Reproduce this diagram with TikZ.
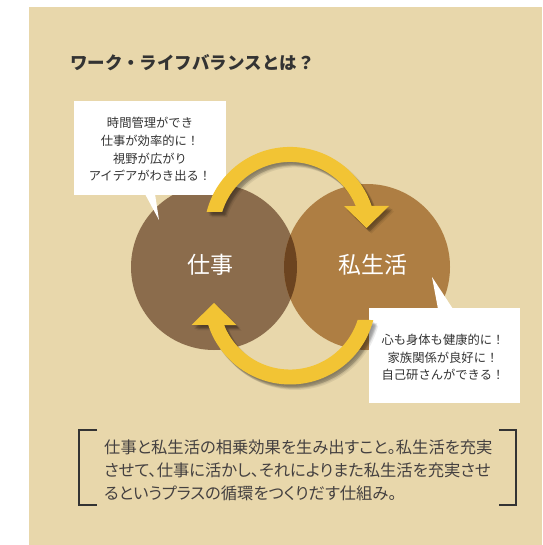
\documentclass[tikz,border=0pt]{standalone}
\usepackage{fontspec}
\setmainfont{Noto Sans CJK JP}
\newfontfamily\jp{Noto Sans CJK JP}
\newfontfamily\jpp[RawFeature=+palt]{Noto Sans CJK JP}
\definecolor{bg}{HTML}{E8D7AB}
\definecolor{workc}{HTML}{8B6C4C}
\definecolor{lifec}{HTML}{AE7E43}
\definecolor{overc}{HTML}{6C4420}
\definecolor{arrowc}{HTML}{F2C434}
\definecolor{txt}{HTML}{333333}
\definecolor{body}{HTML}{444040}
\newcommand{\toparrowpath}{(206.6,212) arc[start angle=194.1, end angle=341.7, radius=86]
   -- (389,206) -- (366.5,228) -- (344,206) -- (355.7,206)
   arc[start angle=337.7, end angle=197.2, radius=71] -- cycle}
\newcommand{\botarrowpath}{(373.3,320) arc[start angle=14.5, end angle=162.1, radius=86]
   -- (191.5,325) -- (214,303) -- (236.5,325) -- (224.1,325)
   arc[start angle=158.1, end angle=17.6, radius=71] -- cycle}
\tikzset{
  bubble/.style={fill=white, draw=none, inner sep=0pt},
  calltext/.style={text=txt, align=center, inner sep=0pt, font=\jp\fontsize{12.3}{17.7}\selectfont},
  circlabel/.style={text=white, inner sep=0pt, font=\jp\fontsize{23}{23}\selectfont},
  bodytext/.style={text=body, anchor=base west, inner sep=0pt, font=\jpp\fontsize{16.3}{16.3}\selectfont},
  cycarrow/.style={fill=arrowc},
  arrowshadow/.style={fill=black, fill opacity=0.07},
  brk/.style={draw=txt, line width=1.2pt}
}
\begin{document}
\begin{tikzpicture}[x=1pt,y=-1pt]
\useasboundingbox (0,0) rectangle (542,545);
\fill[bg] (29,7) rectangle (542,545);

% title
\node[anchor=base west, inner sep=0pt, text=txt, font=\jp\bfseries\fontsize{17.5}{17.5}\selectfont] (title) at (70,69.5) {ワーク・ライフバランスとは？};

% circles
\node[circle, fill=workc, minimum size=166pt, inner sep=0pt] (work) at (214,267) {};
\node[circle, fill=lifec, minimum size=166pt, inner sep=0pt] (life) at (367,267) {};
\begin{scope}
  \clip (work.center) circle[radius=83];
  \fill[overc] (life.center) circle[radius=83];
\end{scope}
\node[circlabel] (worklabel) at (210,265) {仕事};
\node[circlabel] (lifelabel) at (373,265) {私生活};

% callout top-left
\node[bubble, minimum width=152pt, minimum height=94pt] (box1) at (150,148) {};
\fill[white] (145,194) -- (159,220) -- (155,194) -- cycle;
\node[calltext] (t1) at (150,149.5) {時間管理ができ\\仕事が効率的に！\\視野が広がり\\アイデアがわき出る！};

% callout bottom-right
\node[bubble, minimum width=151pt, minimum height=95pt] (box2) at (444.5,355.5) {};
\fill[white] (438,309) -- (432,277) -- (453,309) -- cycle;
\node[calltext] (t2) at (443,357.5) {心も身体も健康的に！\\家族関係が良好に！\\自己研さんができる！};

% soft shadows of the cycle arrows
\foreach \dx/\dy in {1/1.5, 2/2.5, 3/3.5, 4/4.5, 5/5.5, 2.5/4, 4/3}{
  \fill[arrowshadow, shift={(\dx,\dy)}] \toparrowpath;
  \fill[arrowshadow, shift={(\dx,\dy)}] \botarrowpath;
}
% cycle arrows
\fill[cycarrow] \toparrowpath;
\fill[cycarrow] \botarrowpath;

% bracket
\draw[brk] (97,430) -- (79,430) -- (79,505) -- (97,505);
\draw[brk] (499,430) -- (516,430) -- (516,505) -- (499,505);

% body text
\node[bodytext] (l1) at (104,453) {仕事と私生活の相乗効果を生み出すこと。私生活を充実};
\node[bodytext] (l2) at (104,476) {させて、仕事に活かし、それによりまた私生活を充実させ};
\node[bodytext] (l3) at (104,499) {るというプラスの循環をつくりだす仕組み。};
\end{tikzpicture}
\end{document}
